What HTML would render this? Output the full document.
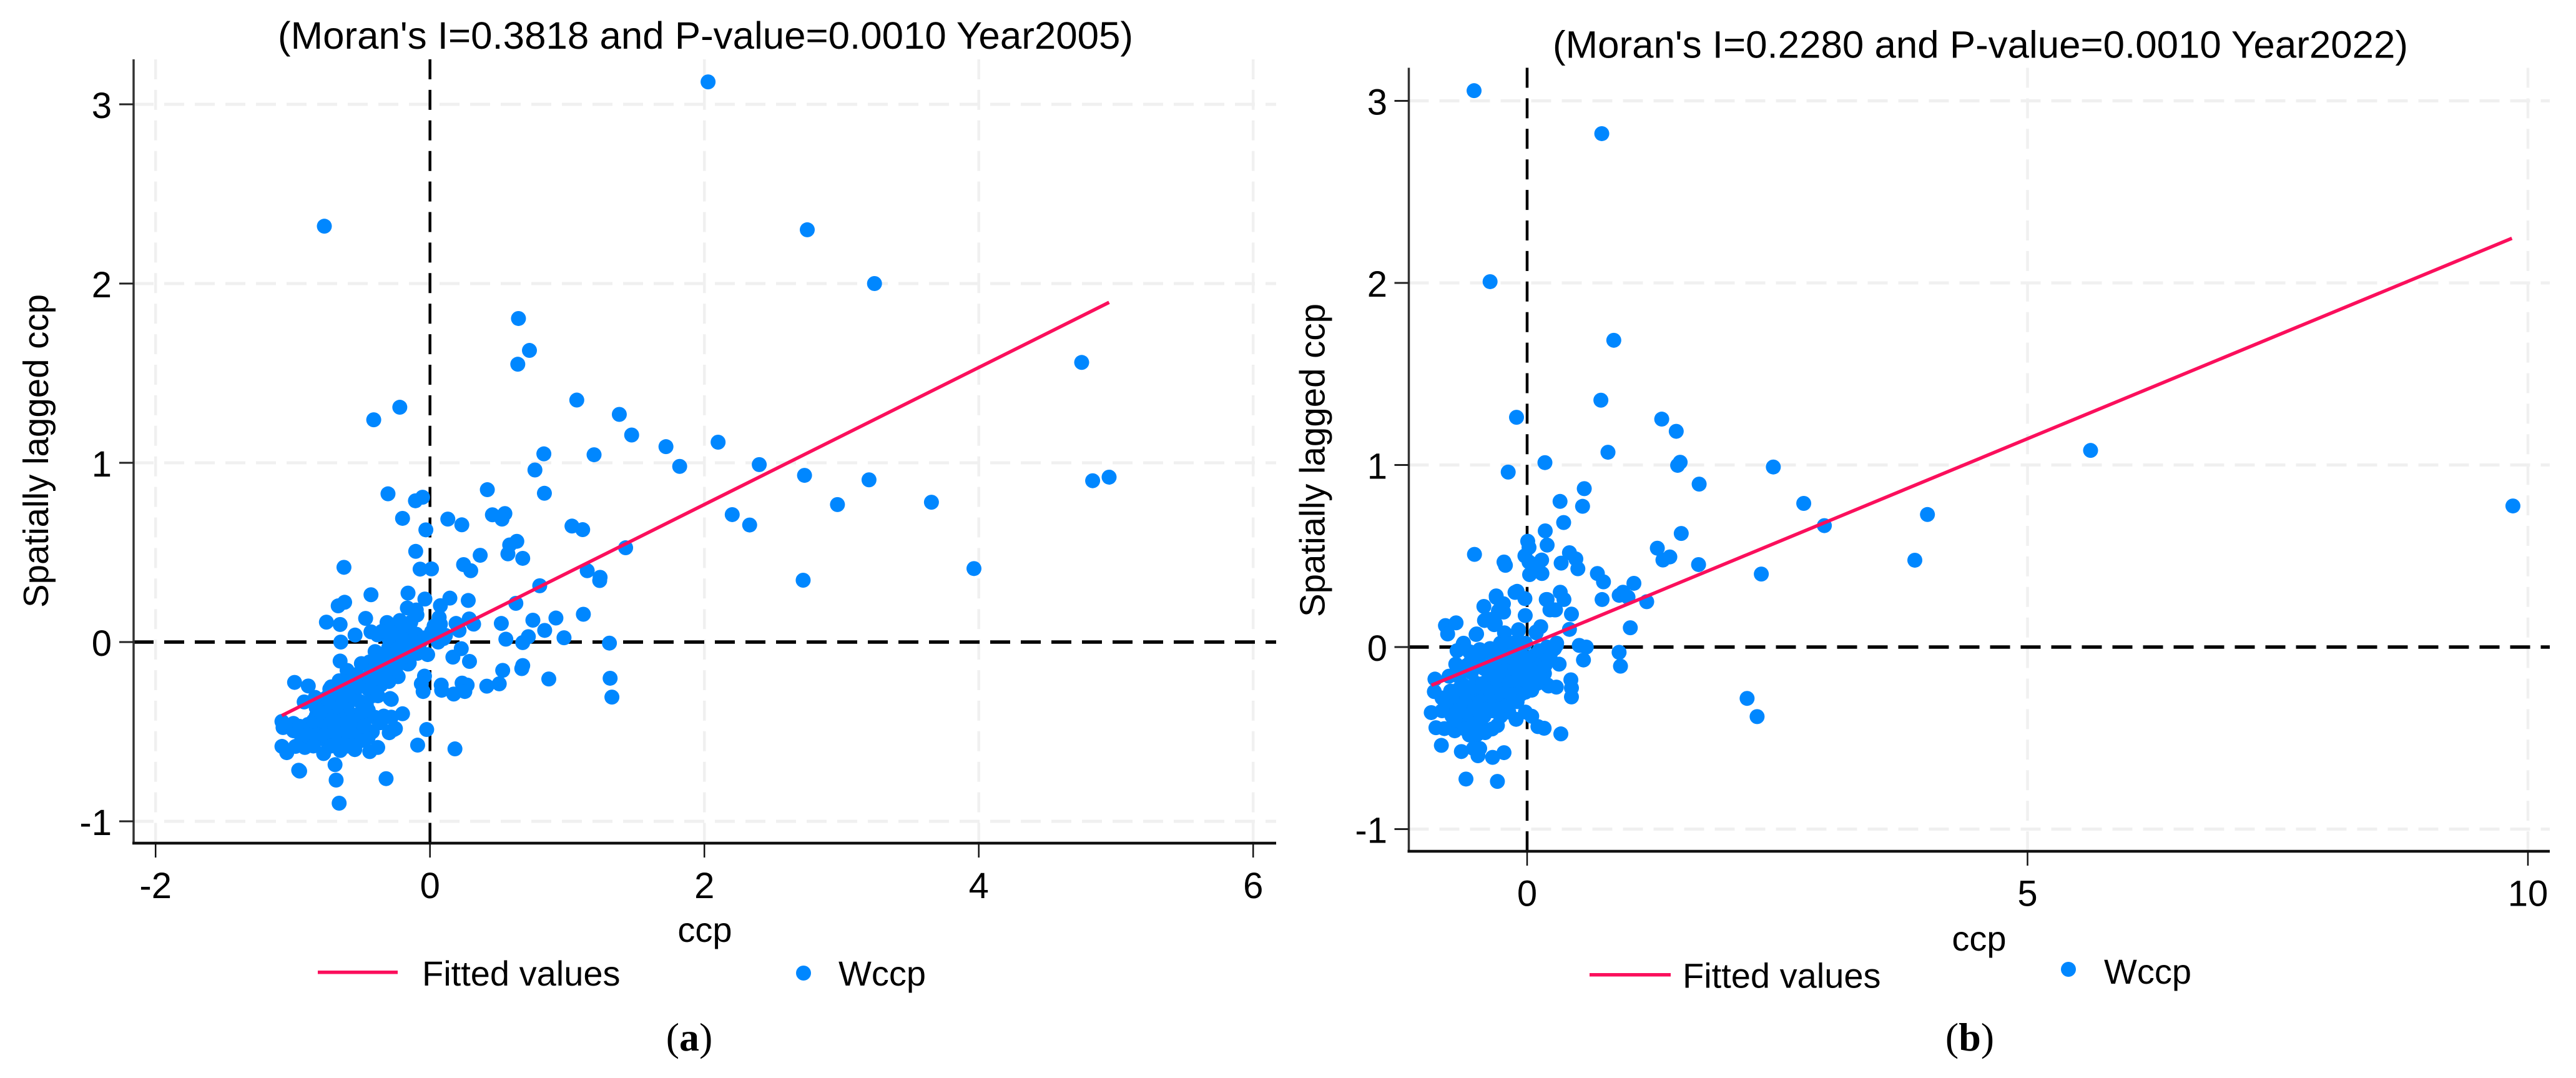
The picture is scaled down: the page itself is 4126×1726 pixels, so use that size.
<!DOCTYPE html>
<html lang="en">
<head>
<meta charset="utf-8">
<title>Moran scatter plots, 2005 and 2022</title>
<style>
html,body{margin:0;padding:0;background:#fff;}
svg{display:block;}
text{font-family:"Liberation Sans",Arial,sans-serif;fill:#000;}
</style>
</head>
<body>
<svg id="figure" xmlns="http://www.w3.org/2000/svg" width="4126" height="1726" viewBox="0 0 4126 1726"></svg>
<script>
// ---------- values ----------
const ccpA = [
2.027,2.75,3.24,4.75,-.77,.645,.725,.64,1.07,-.41,
-.22,1.38,1.47,1.72,1.82,2.1,2.4,1.196,.83,.765,
.834,.418,.455,.546,.525,.13,.232,-.03,-.054,-.106,
-.2,-.306,-.104,-.072,.011,.366,.245,.297,.633,.581,
.568,.676,1.035,1.113,2.203,2.33,1.426,1.146,1.24,1.237,
.8,.626,2.73,3.2,2.97,3.655,3.965,4.83,4.95,2.72,
-.627,-.16,-.037,.145,.076,.279,-.165,-.1,-.095,.067,
.076,.19,.286,.318,.212,.52,.75,.918,1.118,.836,
.977,.553,.717,.676,1.308,.02,.113,-.165,-.1,-.044,
-.22,-.184,-.11,.228,.167,-.017,-.09,-.156,.288,.53,
.676,.669,.866,.505,.414,-.04,-.063,-.05,.082,.085,
.173,.234,.271,.254,1.313,1.326,-.2,-.024,-.09,.182,
-.43,-.669,-.622,-.469,-.755,-.655,-.313,-.255,-.43,-.546,
-.383,-.65,-.174,-.116,.012,-.255,-.209,-.279,-.4,-.441,
-.655,-.604,-.151,-.232,-.348,-.534,-.72,-.987,-.887,-.917,
-.836,-.29,-.337,-.267,-.73,-.662,-1.079,-1.071,-.995,-1.079,
-1.044,-.957,-.95,-.912,-.98,-.775,-.692,-.684,-.662,-.32,
-.654,-.548,-.439,-.381,-.252,-.297,-.282,-.335,-.282,-.464,
-.42,-.48,-.54,-.593,-.677,-.753,-.829,-.889,-.813,-.722,
-.631,-.54,-.631,-.753,-.829,-.935,-.692,-.6,-.51,-.662,
-.57,-.449,-.358,-.449,-.328,-.419,-.267,-.328,-.161,-.388,
-.525,-.601,-.874,-.995,-.677,-.51,-.722,-.829,-.753,-.3,
-.2,-.06,-.3,-.24,-.18,-.12,-.08,-.33,-.38,-.5,
-.95,-.9,-.85,-.78,-.72,-.66,-.6,-.55,-.5,-.45,
-.42,-.38,-.55,-.62,-.68,-.74,-.8,-.58,-.7,-.77,
-.85,-.72,-.6,-.5,-.45,-.48,-.4,-.36,-.42,-.52,
-.6,-.38,-.3,-.42,-.36,-.3,-.22,-.25,-.3,-.18,
-.12,.03,.1,.06,-.14,-.22,-.35
];
const wccpA = [
3.125,2.3,2,1.56,2.32,1.805,1.627,1.55,1.35,1.24,
1.31,1.27,1.155,1.09,.98,1.115,.99,1.045,1.05,.96,
.83,.85,.71,.717,.686,.686,.654,.626,.808,.788,
.69,.827,.506,.407,.408,.484,.432,.398,.562,.542,
.492,.467,.647,.627,.711,.653,.526,.398,.361,.343,
.314,.216,.93,.905,.767,.78,.41,.9,.92,.345,
.417,.273,.24,.245,.203,.232,.19,.179,.151,.137,
.1,.104,.129,.1,.065,.104,.122,.134,.155,.065,
.024,.016,.03,-.003,-.006,.058,.037,.073,.044,.023,
.05,.009,-.006,-.037,-.084,-.07,-.063,-.122,-.108,-.158,
-.131,-.148,-.206,-.233,-.246,-.19,-.233,-.276,-.24,-.269,
-.29,-.229,-.24,-.276,-.202,-.307,-.4,-.488,-.575,-.596,
.264,.202,.222,.132,.111,.098,.109,.08,.057,.039,
.04,0,.069,.045,.057,-.007,-.042,-.065,-.053,-.111,
-.106,-.158,-.117,-.193,-.17,-.181,-.25,-.225,-.245,-.334,
-.309,-.315,-.413,-.489,-.262,-.216,-.443,-.477,-.454,-.582,
-.617,-.715,-.72,-.588,-.582,-.622,-.684,-.77,-.899,-.762,
-.605,-.6,-.611,-.588,-.483,-.506,-.419,-.419,-.32,-.35,
-.5,-.431,-.47,-.39,-.39,-.425,-.413,-.46,-.483,-.495,
-.46,-.541,-.553,-.553,-.53,-.53,-.332,-.344,-.332,-.274,
-.263,-.263,-.239,-.193,-.17,-.111,-.111,-.065,-.123,-.059,
-.216,-.506,-.506,-.495,-.541,-.506,-.367,-.367,-.309,.02,
.02,.01,-.03,-.04,-.03,-.05,-.02,-.12,-.15,-.12,
-.47,-.52,-.44,-.44,-.43,-.43,-.43,-.41,-.39,-.38,
-.3,-.3,-.3,-.3,-.36,-.34,-.39,-.5,-.52,-.52,
-.58,-.58,-.58,-.55,-.53,-.47,-.42,-.45,-.25,-.25,
-.22,-.2,-.22,-.16,-.1,-.07,-.1,-.15,-.15,-.08,
0,.09,.02,0,.11,.12,.06
];
const ccpB = [
-.53,.746,-.37,.866,.737,1.345,1.49,-.106,2.46,2.764,
2.97,4,3.874,2.34,5.63,9.85,2.198,2.298,-.189,.178,
.808,1.529,1.504,1.719,.571,.329,.554,.365,.181,.2,
.006,.019,-.022,-.526,-.231,-.217,.145,.423,.487,.34,
.507,.025,.148,.103,.019,.702,.763,1.54,1.301,1.426,
1.357,1.713,1.067,.958,.92,1.008,1.195,.749,1.031,.331,
.368,.2,.228,.284,.443,.423,-.1,-.022,-.309,-.237,
-.273,-.432,-.426,-.329,-.019,-.816,-.71,-.794,.136,.089,
-.086,-.226,-.51,-.635,.521,.591,.919,.933,.563,.32,
.292,.437,.443,.443,.214,.292,.173,-.921,-.927,-.958,
-.911,-.857,-.657,-.536,-.474,-.491,-.345,-.231,-.611,-.297,
.337,.17,.108,.046,-.017,-.11,-.297,-.453,-.578,-.723,
-.827,-.796,-.599,-.432,-.266,-.183,-.723,-.557,-.391,-.225,
-.1,-.017,.046,.202,.15,.067,-.017,-.162,-.266,-.391,
-.516,-.64,-.765,-.682,-.557,-.432,-.308,-.183,-.058,.067,
-.713,-.64,-.505,-.37,-.318,-.308,-.256,-.235,-.287,-.121,
.191,.233,.274,.091,-.089,-.578,-.474,-.37,-.266,-.141,
-.017,-.391,-.225,-.141,-.557,-.474,.274,.295,.233,-.8,
-.75,-.65,-.5,-.65,-.55,-.35,-.45,-.3,-.2,-.1,
0,.1,-.6,-.064,-.148,
-.75,-.7,-.68,-.62,-.6,-.55,-.52,-.5,-.47,-.44,
-.4,-.38,-.36,-.32,-.3,-.28,-.25,-.22,-.2,-.18,
-.15,-.12,-.1,-.08,-.05,-.03,.02,.05,.09,.12,
.18,.2,.12,.22,-.6,-.52,-.42,-.3,-.22,-.12,
-.05,-.72,-.62,-.5,-.42,-.35,-.85,-.85,-.78,-.7
];
const wccpB = [
3.056,2.82,2.007,1.685,1.356,1.252,1.185,1.262,.989,.789,
.667,.728,.477,.401,1.08,.775,-.282,-.382,.961,1.013,
1.07,1.015,.998,.895,.87,.8,.773,.684,.638,.56,
.581,.547,.501,.509,.467,.449,.478,.518,.484,.461,
.43,.398,.404,.455,.467,.404,.358,.624,.543,.495,
.478,.453,.35,.301,.284,.274,.249,.261,.106,.301,
.261,.261,.204,.204,.181,.097,.306,.266,.281,.238,
.204,.223,.146,.123,.173,.118,.133,.072,.112,.083,
.095,.078,.069,.021,.009,0,-.029,-.105,-.071,-.094,
.009,-.18,-.225,-.274,-.214,-.22,-.145,-.176,-.245,-.36,
-.443,-.54,-.574,-.557,-.557,-.597,-.606,-.58,-.725,-.738,
-.477,-.446,-.437,-.38,-.357,-.397,-.431,-.437,-.483,-.46,
-.448,-.345,-.345,-.38,-.38,-.357,-.3,-.288,-.288,-.288,
-.254,-.248,-.237,-.208,-.059,-.094,-.128,-.162,-.185,-.208,
-.197,-.208,-.242,-.162,-.14,-.117,-.094,-.071,-.037,-.048,
-.094,.015,.072,.152,.129,.272,.232,.192,.198,.3,
.261,.209,.204,.078,.089,-.025,-.014,-.008,.021,.021,
.021,-.048,-.037,-.059,-.071,-.094,-.008,.021,-.037,-.3,
-.38,-.3,-.35,-.42,-.42,-.35,-.25,-.22,-.22,-.19,
-.18,-.2,-.25,-.26,-.277,
-.27,-.35,-.23,-.37,-.28,-.22,-.32,-.42,-.3,-.2,
-.34,-.15,-.25,-.3,-.16,-.34,-.26,-.13,-.32,-.2,
-.26,-.12,-.3,-.15,-.1,-.18,-.12,-.06,-.12,-.02,
-.1,0,-.17,-.07,-.1,-.05,-.03,-.03,.02,-.01,
.02,-.4,-.45,-.48,-.47,-.45,-.35,-.28,-.16,-.02
];
const fitXA = [-1.08, 4.95];
const fitYA = [-0.41, 1.895];
const fitXB = [-0.956, 9.84];
const fitYB = [-0.21, 2.245];
const xTicksA = [-2, 0, 2, 4, 6];
const xTicksB = [0, 5, 10];
const yTicks = [-1, 0, 1, 2, 3];
const titleA = "(Moran's I=0.3818 and P-value=0.0010 Year2005)";
const titleB = "(Moran's I=0.2280 and P-value=0.0010 Year2022)";

// ---------- drawing ----------
const NS = 'http://www.w3.org/2000/svg';
const root = document.getElementById('figure');
function make(parent, tag, attrs, content) {
  const el = document.createElementNS(NS, tag);
  for (const k in attrs) el.setAttribute(k, attrs[k]);
  if (content !== undefined) el.textContent = content;
  parent.appendChild(el);
  return el;
}
const BLUE = '#0087ff', PINK = '#fb0f5c', GRID = '#f0f0f0';

function drawPanel(p) {
  const g = make(root, 'g', {});
  
  
  const sx = v => p.x0 + v * p.xUnit;
  const sy = v => p.y0 - v * p.yUnit;

  // gridlines
  p.xTicks.forEach(t => {
    const el = make(g, 'line', {x1:sx(t), x2:sx(t), y1:p.top, y2:p.bottom, stroke:GRID, 'stroke-width':4.5, 'stroke-dasharray':'32 16.9'});
    
    
  });
  yTicks.forEach(t => {
    const el = make(g, 'line', {x1:p.left, x2:p.right, y1:sy(t), y2:sy(t), stroke:GRID, 'stroke-width':5, 'stroke-dasharray':'32 17'});
    
    
  });

  // reference lines at zero
  const hz = make(g, 'line', {x1:p.left, x2:p.right, y1:sy(0), y2:sy(0), stroke:'#000', 'stroke-width':5.5, 'stroke-dasharray':'32 17'});
  
  
  const vz = make(g, 'line', {x1:sx(0), x2:sx(0), y1:p.top, y2:p.bottom, stroke:'#000', 'stroke-width':4.5, 'stroke-dasharray':'32 16.9'});
  
  

  // axes
  const ya = make(g, 'line', {x1:p.left, x2:p.left, y1:p.top, y2:p.bottom + 2, stroke:'#333', 'stroke-width':3.5});
  
  
  const xa = make(g, 'line', {x1:p.left - 2, x2:p.right, y1:p.bottom, y2:p.bottom, stroke:'#111', 'stroke-width':4.5});
  
  

  // ticks and tick labels
  p.xTicks.forEach(t => {
    const tk = make(g, 'line', {x1:sx(t), x2:sx(t), y1:p.bottom, y2:p.bottom + 23, stroke:'#111', 'stroke-width':2.5});
    
    
    const lb = make(g, 'text', {x:sx(t), y:p.xLabelY, 'font-size':58, 'text-anchor':'middle'}, String(t));
    
    
  });
  yTicks.forEach(t => {
    const tk = make(g, 'line', {x1:p.left - 23, x2:p.left, y1:sy(t), y2:sy(t), stroke:'#222', 'stroke-width':3});
    
    
    const lb = make(g, 'text', {x:p.yLabelX, y:sy(t) + 22, 'font-size':58, 'text-anchor':'end'}, String(t));
    
    
  });

  // scatter points
  const pts = make(g, 'g', {fill:BLUE});
  
  
  p.xs.forEach((v, i) => {
    const c = make(pts, 'circle', {cx:sx(v), cy:sy(p.ys[i]), r:12});
    
    
  });

  // fitted line
  const fit = make(g, 'line', {x1:sx(p.fitX[0]), y1:sy(p.fitY[0]), x2:sx(p.fitX[1]), y2:sy(p.fitY[1]), stroke:PINK, 'stroke-width':5.5});
  
  

  // titles
  const ti = make(g, 'text', {x:p.titleX, y:p.titleY, 'font-size':61, textLength:1370, lengthAdjust:'spacingAndGlyphs'}, p.title);
  
  
  const yt = make(g, 'text', {transform:'translate(' + p.yTitleX + ' ' + p.yTitleY + ') rotate(-90)', 'font-size':57, textLength:502, lengthAdjust:'spacingAndGlyphs'}, 'Spatially lagged ccp');
  
  
  const xt = make(g, 'text', {x:p.xTitleX, y:p.xTitleY, 'font-size':56, 'text-anchor':'middle'}, 'ccp');
  
  

  // legend
  const lg = make(g, 'g', {});
  
  
  const ls = make(lg, 'line', {x1:p.legLine[0], x2:p.legLine[1], y1:p.legLineY, y2:p.legLineY, stroke:PINK, 'stroke-width':5.5});
  
  
  const lt = make(lg, 'text', {x:p.legFitX, y:p.legFitY, 'font-size':56}, 'Fitted values');
  
  
  const lm = make(lg, 'circle', {cx:p.legDotX, cy:p.legDotY, r:12, fill:BLUE});
  
  
  const lw = make(lg, 'text', {x:p.legWX, y:p.legWY, 'font-size':56}, 'Wccp');
  
  

  // caption
  const cap = make(g, 'text', {x:p.capX, y:1682, 'font-size':64, 'text-anchor':'middle', style:'font-family:"Liberation Serif","Times New Roman",serif'});
  
  
  make(cap, 'tspan', {}, '(');
  make(cap, 'tspan', {'font-weight':'bold'}, p.id);
  make(cap, 'tspan', {}, ')');
}

drawPanel({
  id:'a', xs:ccpA, ys:wccpA, fitX:fitXA, fitY:fitYA, xTicks:xTicksA, title:titleA,
  x0:688.7, xUnit:219.75, y0:1028, yUnit:287,
  left:214, right:2044, top:95, bottom:1350,
  xLabelY:1438, yLabelX:179, titleX:445, titleY:78,
  yTitleX:77, yTitleY:973, xTitleX:1129, xTitleY:1508,
  legLine:[509,637], legLineY:1556.7, legFitX:676, legFitY:1578,
  legDotX:1287, legDotY:1558, legWX:1343, legWY:1578, capX:1104
});
drawPanel({
  id:'b', xs:ccpB, ys:wccpB, fitX:fitXB, fitY:fitYB, xTicks:xTicksB, title:titleB,
  x0:2446, xUnit:160.3, y0:1036, yUnit:291.5,
  left:2256.5, right:4084, top:108.5, bottom:1363,
  xLabelY:1450.5, yLabelX:2222, titleX:2487, titleY:92.4,
  yTitleX:2121.5, yTitleY:988, xTitleX:3170, xTitleY:1522,
  legLine:[2546,2676], legLineY:1560.7, legFitX:2695, legFitY:1581.7,
  legDotX:3313, legDotY:1552, legWX:3370, legWY:1575, capX:3155
});
</script>
</body>
</html>
